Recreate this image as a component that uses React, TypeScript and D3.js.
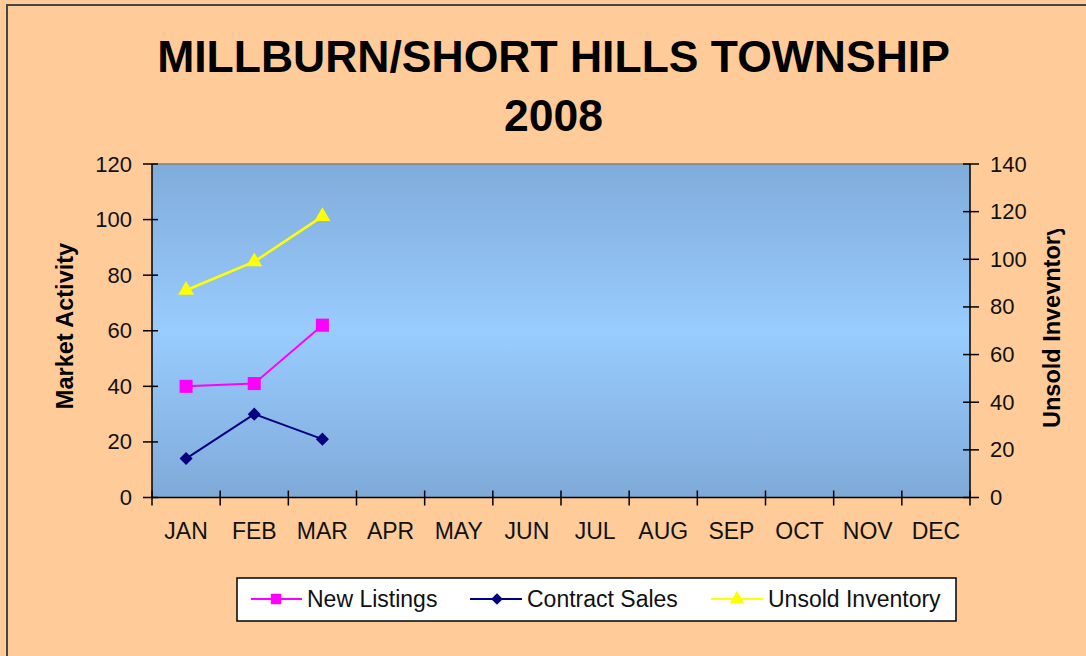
import React from "react";
import * as d3 from "d3";

const months = ["JAN","FEB","MAR","APR","MAY","JUN","JUL","AUG","SEP","OCT","NOV","DEC"];
const newListings = [40, 41, 62];
const contractSales = [14, 30, 21];
const unsoldInventory = [87, 99, 118];
const leftTicks = [0, 20, 40, 60, 80, 100, 120];
const rightTicks = [0, 20, 40, 60, 80, 100, 120, 140];

const W = 1086, H = 656;
const PL = 152, PR = 970, PT = 164, PB = 497.5;

export default function App() {
  const x = d3.scaleBand<string>().domain(months).range([PL, PR]);
  const yL = d3.scaleLinear().domain([0, 120]).range([PB, PT]);
  const yR = d3.scaleLinear().domain([0, 140]).range([PB, PT]);
  const cx = (i: number) => (x(months[i]) as number) + x.bandwidth() / 2;
  const lineL = d3.line<number>().x((_, i) => cx(i)).y(d => yL(d));
  const lineR = d3.line<number>().x((_, i) => cx(i)).y(d => yR(d));
  const boundaries = d3.range(13).map(i => PL + i * x.bandwidth());
  const font = "'Liberation Sans', Arial, sans-serif";
  const sq = d3.symbol().type(d3.symbolSquare).size(170)()!;
  const dia = d3.symbol().type(d3.symbolSquare).size(85)()!;
  const tri = d3.symbol().type(d3.symbolTriangle).size(110)()!;

  return (
    <svg width={W} height={H} style={{ position: "absolute", left: 0, top: 0 }} fontFamily={font}>
      <defs>
        <linearGradient id="pg" x1="0" y1="0" x2="0" y2="1">
          <stop offset="0" stopColor="#80ACDA" />
          <stop offset="0.5" stopColor="#99CCFF" />
          <stop offset="1" stopColor="#7FAAD8" />
        </linearGradient>
        <clipPath id="rc"><rect x={1000} y={229} width={86} height={400} /></clipPath>
      </defs>
      <rect x={0} y={0} width={W} height={H} fill="#FFCC99" />
      <rect x={7} y={5} width={1200} height={800} fill="none" stroke="#454545" strokeWidth={2} />
      <text x={553.5} y={72} textAnchor="middle" fontWeight="bold" fontSize={44.5}>MILLBURN/SHORT HILLS TOWNSHIP</text>
      <text x={553.5} y={131} textAnchor="middle" fontWeight="bold" fontSize={44.5}>2008</text>

      <rect x={PL} y={PT} width={PR - PL} height={PB - PT} fill="url(#pg)" />
      <line x1={PL} x2={PR} y1={PT} y2={PT} stroke="#808080" strokeWidth={1.5} />
      <line x1={PL} x2={PL} y1={PT} y2={PB} stroke="#000" strokeWidth={1.5} />
      <line x1={PR} x2={PR} y1={PT} y2={PB} stroke="#000" strokeWidth={1.5} />
      <line x1={PL} x2={PR} y1={PB} y2={PB} stroke="#000" strokeWidth={1.5} />

      {leftTicks.map(t => (
        <g key={"l" + t}>
          <line x1={PL - 9} x2={PL + 6} y1={yL(t)} y2={yL(t)} stroke="#000" strokeWidth={1.5} />
          <text x={132} y={yL(t) + 7.5} textAnchor="end" fontSize={22} fill="#111">{t}</text>
        </g>
      ))}
      {rightTicks.map(t => (
        <g key={"r" + t}>
          <line x1={PR - 7} x2={PR + 9} y1={yR(t)} y2={yR(t)} stroke="#000" strokeWidth={1.5} />
          <text x={990} y={yR(t) + 7.5} textAnchor="start" fontSize={22} fill="#111">{t}</text>
        </g>
      ))}
      {boundaries.map((b, i) => (
        <line key={"b" + i} x1={b} x2={b} y1={PB - 7} y2={PB + 8} stroke="#000" strokeWidth={1.5} />
      ))}
      {months.map((m, i) => (
        <text key={m} x={cx(i)} y={539} textAnchor="middle" fontSize={23} fill="#111">{m}</text>
      ))}

      <text transform="translate(73,326) rotate(-90)" textAnchor="middle" fontWeight="bold" fontSize={23.5}>Market Activity</text>
      <g clipPath="url(#rc)">
        <text transform="translate(1060,428) rotate(-90)" textAnchor="start" fontWeight="bold" fontSize={23.5}>Unsold Invevntory</text>
      </g>

      <path d={lineR(unsoldInventory)!} fill="none" stroke="#FFFF00" strokeWidth={2.5} />
      {unsoldInventory.map((v, i) => (
        <path key={"u" + i} d={tri} transform={`translate(${cx(i)},${yR(v)})`} fill="#FFFF00" />
      ))}
      <path d={lineL(newListings)!} fill="none" stroke="#FF00FF" strokeWidth={2} />
      {newListings.map((v, i) => (
        <path key={"n" + i} d={sq} transform={`translate(${cx(i)},${yL(v)})`} fill="#FF00FF" />
      ))}
      <path d={lineL(contractSales)!} fill="none" stroke="#000080" strokeWidth={2} />
      {contractSales.map((v, i) => (
        <path key={"c" + i} d={dia} transform={`translate(${cx(i)},${yL(v)}) rotate(45)`} fill="#000080" />
      ))}

      <rect x={237} y={578} width={719} height={43} fill="#fff" stroke="#000" strokeWidth={1.5} />
      <g>
        <line x1={251} x2={302} y1={599} y2={599} stroke="#FF00FF" strokeWidth={2} />
        <path d={sq} transform="translate(276,599) scale(0.8)" fill="#FF00FF" />
        <text x={307} y={607} fontSize={23} fill="#111">New Listings</text>
        <line x1={470} x2={522} y1={599} y2={599} stroke="#000080" strokeWidth={2} />
        <path d={dia} transform="translate(497,599) rotate(45) scale(0.9)" fill="#000080" />
        <text x={527} y={607} fontSize={23} fill="#111">Contract Sales</text>
        <line x1={711} x2={763} y1={599} y2={599} stroke="#FFFF00" strokeWidth={2} />
        <path d={tri} transform="translate(737,599) scale(0.9)" fill="#FFFF00" />
        <text x={768} y={607} fontSize={23} fill="#111">Unsold Inventory</text>
      </g>
    </svg>
  );
}
